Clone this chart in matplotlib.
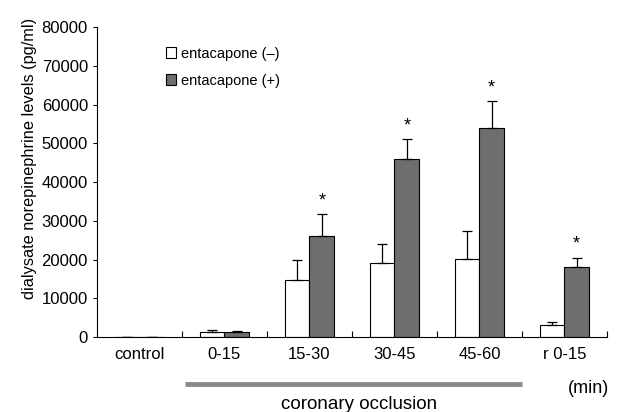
import matplotlib
matplotlib.use("Agg")
import matplotlib.pyplot as plt
import numpy as np

plt.rcParams['font.family'] = ['Liberation Sans', 'DejaVu Sans']

categories = ["control", "0-15", "15-30", "30-45", "45-60", "r 0-15"]
minus_vals = [0, 1300, 14600, 19200, 20200, 3000]
minus_err = [0, 600, 5300, 4900, 7200, 900]
plus_vals = [0, 1200, 26200, 45900, 54000, 18200]
plus_err = [0, 300, 5500, 5200, 6900, 2300]
significant = [False, False, True, True, True, True]
yticks = [0, 10000, 20000, 30000, 40000, 50000, 60000, 70000, 80000]

fig = plt.figure(figsize=(6.18, 4.12), dpi=100)
ax = fig.add_axes([0.157, 0.182, 0.825, 0.752])

x = np.arange(len(categories))
w = 0.29
ax.bar(x - w/2, minus_vals, w, color='white', edgecolor='black', linewidth=0.8,
       yerr=[np.zeros(len(x)), minus_err], error_kw=dict(ecolor='black', elinewidth=0.9, capsize=3.5, capthick=0.9),
       label='entacapone (–)', zorder=2)
ax.bar(x + w/2, plus_vals, w, color='#6e6e6e', edgecolor='black', linewidth=0.8,
       yerr=[np.zeros(len(x)), plus_err], error_kw=dict(ecolor='black', elinewidth=0.9, capsize=3.5, capthick=0.9),
       label='entacapone (+)', zorder=2)

for i, s in enumerate(significant):
    if s:
        ax.text(x[i] + w/2, plus_vals[i] + plus_err[i] + 1200, '*', ha='center', va='bottom', fontsize=13)

ax.set_xlim(-0.5, len(categories) - 0.5)
ax.set_ylim(0, 80000)
ax.set_yticks(yticks)
ax.set_yticklabels([str(t) for t in yticks], fontsize=12)
ax.set_xticks(np.arange(len(categories)) + 0.5)
ax.set_xticklabels([])
ax.tick_params(axis='x', direction='in', length=4)
ax.tick_params(axis='y', direction='out', length=3)
for i, c in enumerate(categories):
    ax.text(x[i], -0.032, c, transform=ax.get_xaxis_transform(), ha='center', va='top', fontsize=12)
ax.spines['top'].set_visible(False)
ax.spines['right'].set_visible(False)
ax.set_ylabel('dialysate norepinephrine levels (pg/ml)', fontsize=11.8, labelpad=6)
ax.yaxis.set_label_coords(-0.118, 0.575)

leg = ax.legend(loc='upper left', bbox_to_anchor=(0.11, 0.98), frameon=False, fontsize=10.5,
                handlelength=0.7, handleheight=0.7, handletextpad=0.3, labelspacing=0.9)

# coronary occlusion bar
ax.plot([0.53, 4.5], [-0.152, -0.152], transform=ax.get_xaxis_transform(), color='#8a8a8a',
        linewidth=3.5, clip_on=False, solid_capstyle='butt')
ax.text(2.58, -0.19, 'coronary occlusion', transform=ax.get_xaxis_transform(), ha='center', va='top', fontsize=13.5)
ax.text(5.28, -0.14, '(min)', transform=ax.get_xaxis_transform(), ha='center', va='top', fontsize=13)

fig.savefig('out.png', dpi=100)
